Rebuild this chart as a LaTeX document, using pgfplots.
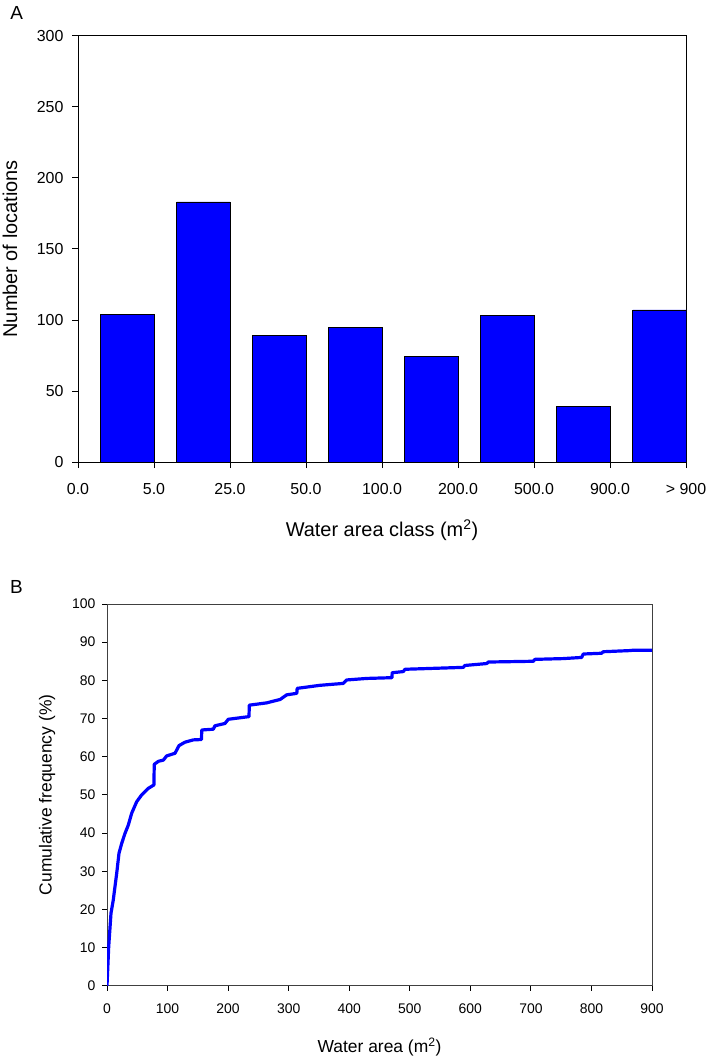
\documentclass[border=0pt]{standalone}
\usepackage{fontspec}
\setmainfont{Liberation Sans}
\usepackage{pgfplots}
\pgfplotsset{compat=1.18}
\definecolor{barblue}{RGB}{0,0,255}
\begin{document}
\begin{tikzpicture}
\path[use as bounding box] (0,0) rectangle (709bp,-1058bp);
% Panel A
\begin{axis}[
  at={(78bp,-462bp)}, anchor=south west,
  scale only axis, width=608bp, height=426.3bp,
  xmin=0, xmax=8, ymin=0, ymax=300,
  xtick={0,1,2,3,4,5,6,7,8},
  xticklabels={0.0,5.0,25.0,50.0,100.0,200.0,500.0,900.0,{> 900}},
  ytick={0,50,100,150,200,250,300},
  tick align=outside, xtick pos=left, ytick pos=left,
  major tick length=6bp,
  axis line style={line width=0.8bp},
  tick style={line width=0.8bp, black},
  /pgf/number format/assume math mode=true,
  ticklabel style={font=\fontsize{16}{18}\selectfont},
  xticklabel style={yshift=-12bp},
  yticklabel style={xshift=-5bp},
  xlabel={Water area class (m\textsuperscript{2})},
  ylabel={Number of locations},
  label style={font=\fontsize{20}{23}\selectfont},
  x label style={at={(axis description cs:0.5,-0.1595)}, anchor=center},
  y label style={at={(axis description cs:-0.1118,0.5)}, anchor=center},
]
\addplot[ybar, bar width=53.2bp, fill=barblue, draw=black, line width=0.8bp]
  coordinates {(0.65,104) (1.65,183) (2.65,89) (3.65,95) (4.65,74) (5.65,103) (6.65,39) (7.65,107)};
\end{axis}
\node[font=\fontsize{19}{22}\selectfont] at (16.7bp,-13.3bp) {A};
% Panel B
\begin{axis}[
  at={(107bp,-985.7bp)}, anchor=south west,
  scale only axis, width=545bp, height=381.7bp,
  xmin=0, xmax=900, ymin=0, ymax=100,
  xtick={0,100,...,900},
  ytick={0,10,...,100},
  tick align=outside, xtick pos=left, ytick pos=left,
  major tick length=5bp,
  axis line style={line width=0.8bp, black!75},
  tick style={line width=0.8bp, black},
  /pgf/number format/assume math mode=true,
  ticklabel style={font=\fontsize{14}{16}\selectfont},
  xticklabel style={yshift=-10bp},
  yticklabel style={xshift=-3bp},
  xlabel={Water area (m\textsuperscript{2})},
  ylabel={Cumulative frequency (\%)},
  label style={font=\fontsize{17.5}{20}\selectfont},
  x label style={at={(axis description cs:0.5,-0.1606)}, anchor=center},
  y label style={at={(axis description cs:-0.110,0.5)}, anchor=center},
]
\addplot[barblue, line width=3.2bp, line join=round] coordinates {
(0,0) (2.8,10.2) (6.6,19) (10.4,22.5) (13.2,26) (16,29.4) (19.8,34.7)
(24.3,37.3) (29.7,39.9) (35.2,42.1) (40.8,45.2) (49,48.2) (57.3,50)
(68.2,51.7) (77.5,52.6) (78,58) (85,58.8) (93,59.1) (98.5,60.2)
(112.3,60.9) (118.9,62.9) (128.8,63.8) (142.5,64.4) (156,64.5) (156.5,67)
(175.5,67.2) (178.3,68.1) (194.8,68.7) (200.3,69.8) (234.5,70.5) (235,73.5)
(263.7,74.1) (286,75) (296.7,76.2) (313.5,76.6) (314,77.9) (351.7,78.7)
(390.2,79.2) (395.8,80.1) (428.8,80.5) (470.5,80.7) (471,82) (489.3,82.3)
(492.1,82.9) (550,83.2) (588.4,83.4) (591,83.9) (627,84.4) (629.6,84.8)
(704,85) (706.7,85.5) (753.5,85.7) (783.8,86) (786.5,86.9) (816.8,87.1)
(819.5,87.5) (863.6,87.8) (869.1,87.9) (900,87.9)
};
\end{axis}
\node[font=\fontsize{19}{22}\selectfont] at (16.5bp,-587bp) {B};
\end{tikzpicture}
\end{document}
